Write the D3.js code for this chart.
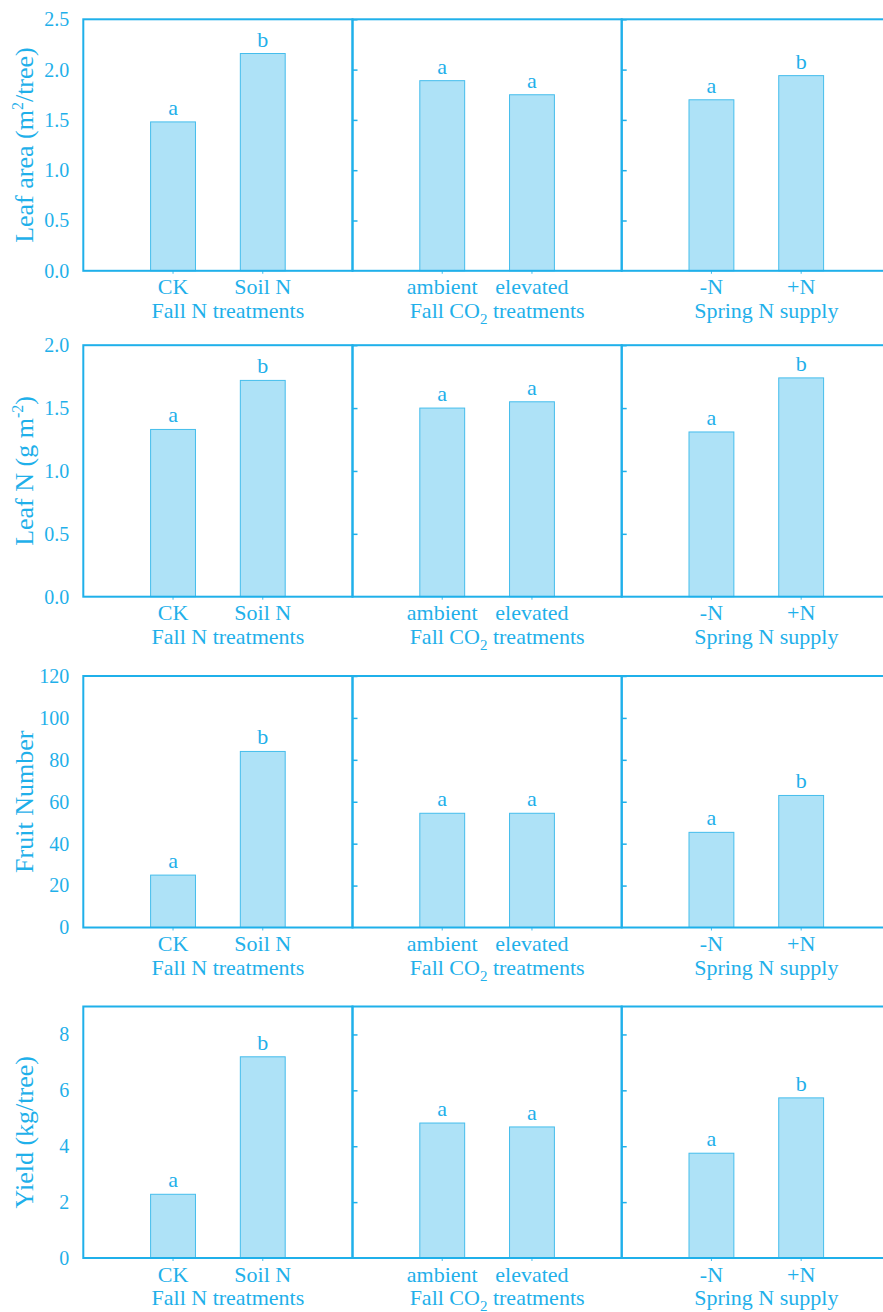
<!DOCTYPE html>
<html>
<head>
<meta charset="utf-8">
<script src="https://cdn.jsdelivr.net/npm/d3@7"></script>
<style>
  html, body { margin: 0; padding: 0; background: #fff; }
  svg { display: block; font-family: "Liberation Serif", "DejaVu Serif", serif; }
</style>
</head>
<body>
<svg id="chart" width="883" height="1312"></svg>
<script>
// Treatment groups shown left to right in every row
const groupTitles = ["Fall N treatments", "Fall CO2 treatments", "Spring N supply"];
const categories = [["CK", "Soil N"], ["ambient", "elevated"], ["-N", "+N"]];

// Row 1: leaf area (m2/tree)
const leafArea = [[1.48, 2.16], [1.89, 1.75], [1.70, 1.94]];
const leafAreaLetters = [["a", "b"], ["a", "a"], ["a", "b"]];
const leafAreaTicks = [0, 0.5, 1.0, 1.5, 2.0, 2.5];

// Row 2: leaf N (g m-2)
const leafN = [[1.33, 1.72], [1.50, 1.55], [1.31, 1.74]];
const leafNLetters = [["a", "b"], ["a", "a"], ["a", "b"]];
const leafNTicks = [0, 0.5, 1.0, 1.5, 2.0];

// Row 3: fruit number
const fruitNumber = [[25, 84], [54.5, 54.5], [45.4, 63]];
const fruitLetters = [["a", "b"], ["a", "a"], ["a", "b"]];
const fruitTicks = [0, 20, 40, 60, 80, 100, 120];

// Row 4: yield (kg/tree)
const yieldKg = [[2.28, 7.2], [4.83, 4.69], [3.75, 5.73]];
const yieldLetters = [["a", "b"], ["a", "a"], ["a", "b"]];
const yieldTicks = [0, 2, 4, 6, 8];

const rows = [
  { values: leafArea, letters: leafAreaLetters, ticks: leafAreaTicks, max: 2.5, fmt: d3.format(".1f"), title: "leafArea" },
  { values: leafN, letters: leafNLetters, ticks: leafNTicks, max: 2.0, fmt: d3.format(".1f"), title: "leafN" },
  { values: fruitNumber, letters: fruitLetters, ticks: fruitTicks, max: 120, fmt: d3.format("d"), title: "fruit" },
  { values: yieldKg, letters: yieldLetters, ticks: yieldTicks, max: 9, fmt: d3.format("d"), title: "yield" }
];

const BLUE = "#1fb0ea";
const BAR_FILL = "#aee2f7";
const BAR_STROKE = "#45bdec";

const left = 83.3;
const panelW = 269.2;
const plotH = 251.5;
const rowTops = [19.3, 345.2, 676, 1006.5];

const svg = d3.select("#chart");

// Axis titles written with tspans so super/subscripts render as text
function yTitle(sel, key) {
  if (key === "leafArea") {
    sel.append("tspan").text("Leaf area (m");
    sel.append("tspan").attr("dy", "-10px").attr("font-size", "16px").text("2");
    sel.append("tspan").attr("dy", "10px").text("/tree)");
  } else if (key === "leafN") {
    sel.append("tspan").text("Leaf N (g m");
    sel.append("tspan").attr("dy", "-10px").attr("font-size", "16px").text("-2");
    sel.append("tspan").attr("dy", "10px").text(")");
  } else if (key === "fruit") {
    sel.text("Fruit Number");
  } else {
    sel.text("Yield (kg/tree)");
  }
}

function groupTitle(sel, i) {
  if (i === 1) {
    sel.append("tspan").text("Fall CO");
    sel.append("tspan").attr("dy", "6px").attr("font-size", "15px").text("2");
    sel.append("tspan").attr("dy", "-6px").text("\u00a0treatments");
  } else {
    sel.text(groupTitles[i]);
  }
}

rows.forEach((row, r) => {
  const top = rowTops[r];
  const g = svg.append("g").attr("transform", `translate(0,${top})`);
  const y = d3.scaleLinear().domain([0, row.max]).range([plotH, 0]);

  // Y axis title
  g.append("text")
    .attr("transform", `translate(33,${plotH / 2}) rotate(-90)`)
    .attr("text-anchor", "middle")
    .attr("fill", BLUE)
    .attr("font-size", "26px")
    .call(yTitle, row.title);

  // Tick labels on the outer left axis
  const yAxis = d3.axisLeft(y).tickValues(row.ticks).tickFormat(row.fmt).tickSize(0).tickPadding(14);
  const ya = g.append("g").attr("transform", `translate(${left},0)`).call(yAxis);
  ya.select(".domain").remove();
  ya.selectAll("text").attr("fill", BLUE).attr("font-size", "20px").attr("font-family", "Liberation Serif");

  categories.forEach((cats, p) => {
    const x0 = left + p * panelW;
    const pg = g.append("g").attr("transform", `translate(${x0},0)`);
    const x = d3.scaleBand().domain(cats).range([0, panelW]).paddingInner(0.5).paddingOuter(0.75);
    const items = cats.map((c, i) => ({ c, v: row.values[p][i], l: row.letters[p][i] }));

    // Inner tick marks on the shared dividers
    if (p > 0) {
      const ia = pg.append("g").call(d3.axisRight(y).tickValues(row.ticks.filter(t => t > 0)).tickSize(5).tickFormat(""));
      ia.select(".domain").remove();
      ia.selectAll("line").attr("stroke", BLUE).attr("stroke-width", 1.5);
    }

    // Bars
    pg.selectAll("rect.bar")
      .data(items)
      .join("rect")
      .attr("class", "bar")
      .attr("x", d => x(d.c))
      .attr("width", x.bandwidth())
      .attr("y", d => y(d.v))
      .attr("height", d => plotH - y(d.v))
      .attr("fill", BAR_FILL)
      .attr("stroke", BAR_STROKE)
      .attr("stroke-width", 1);

    // Significance letters
    pg.selectAll("text.sig")
      .data(items)
      .join("text")
      .attr("class", "sig")
      .attr("x", d => x(d.c) + x.bandwidth() / 2)
      .attr("y", d => y(d.v) - 7)
      .attr("text-anchor", "middle")
      .attr("fill", BLUE)
      .attr("font-size", "22px")
      .text(d => d.l);

    // Category labels with small ticks below the baseline
    const xa = pg.append("g").attr("transform", `translate(0,${plotH})`)
      .call(d3.axisBottom(x).tickSize(3).tickPadding(5));
    xa.select(".domain").remove();
    xa.selectAll("line").attr("stroke", BAR_STROKE).attr("stroke-width", 1);
    xa.selectAll("text").attr("fill", BLUE).attr("font-size", "22px").attr("font-family", "Liberation Serif");

    // Group title
    pg.append("text")
      .attr("x", panelW / 2 + 10)
      .attr("y", plotH + 47)
      .attr("text-anchor", "middle")
      .attr("fill", BLUE)
      .attr("font-size", "22px")
      .call(groupTitle, p);

    // Panel frame
    pg.append("rect")
      .attr("x", 0).attr("y", 0)
      .attr("width", panelW).attr("height", plotH)
      .attr("fill", "none")
      .attr("stroke", BLUE)
      .attr("stroke-width", 2);
  });
});
</script>
</body>
</html>
